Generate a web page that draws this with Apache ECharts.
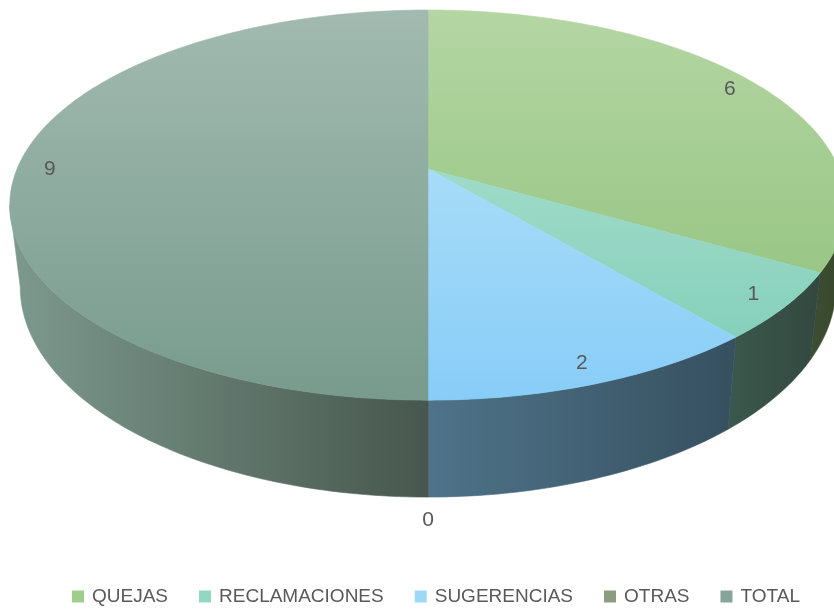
<!DOCTYPE html>
<html>
<head>
<meta charset="utf-8">
<script src="https://cdn.jsdelivr.net/npm/echarts@6/dist/echarts.min.js"></script>
<style>
html, body { margin: 0; padding: 0; background: #fff; }
#chart { width: 834px; height: 610px; }
</style>
</head>
<body>
<div id="chart"></div>
<script>
var categories = ['QUEJAS', 'RECLAMACIONES', 'SUGERENCIAS', 'OTRAS', 'TOTAL'];
var values = [6, 1, 2, 0, 9];

// colores: leyenda, cara superior (arriba/abajo) y lateral (izq/der)
var legendColors = ['#a0cc8c', '#90d8c2', '#9dd8f8', '#8b9c80', '#86a49a'];
var topColors = [['#b4d6a3', '#8cbf78'], ['#b8e4d6', '#7ccdb6'], ['#bce6f8', '#88cdf8'], ['#9aaa90', '#7d8f72'], ['#a2bab0', '#789b8e']];
var sideColors = [['#3e4e32', '#37462b'], ['#3b584d', '#334840'], ['#4f738a', '#36505f'], ['#6a7a60', '#4a5a40'], ['#7d998d', '#47574e']];

// proyeccion en perspectiva del disco
var CX = 428, CY = 169, K = 411, KS = 188.4, P = 0.185, DEPTH = 79, BOTTOM_SCALE = 0.975;
var SIL_R = Math.acos(-P) * 180 / Math.PI;
var SIL_L = 360 - SIL_R;
var total = values.reduce(function (a, b) { return a + b; }, 0);

var project = function (deg, r, drop) {
    var a = deg * Math.PI / 180;
    var u = r * Math.sin(a), v = r * Math.cos(a);
    var w = 1 + P * v;
    var sx = drop ? BOTTOM_SCALE : 1;
    return [CX + K * u * sx / w, CY - KS * v / w + (drop || 0) / w];
};

var labelText = function (x, y, txt) {
    return {
        type: 'text', x: x, y: y, z2: 20,
        style: {
            text: txt, fill: '#595959', fontSize: 21,
            fontFamily: '"Liberation Sans", Arial, sans-serif',
            align: 'center', verticalAlign: 'middle'
        }
    };
};

var renderSlice = function (idx) {
    return function (params, api) {
        var val = api.value(0);
        var before = 0;
        for (var j = 0; j < idx; j++) before += values[j];
        var start = before / total * 360;
        var end = (before + val) / total * 360;
        var mid = (start + end) / 2;
        var children = [];
        var a, p;

        if (val > 0) {
            // lateral visible
            var s0 = Math.max(start, SIL_R), s1 = Math.min(end, SIL_L);
            if (s1 > s0) {
                var side = [];
                for (a = s0; a < s1; a += 1) side.push(project(a, 1, 0));
                side.push(project(s1, 1, 0));
                for (a = s1; a > s0; a -= 1) side.push(project(a, 1, DEPTH));
                side.push(project(s0, 1, DEPTH));
                var xs = side.map(function (q) { return q[0]; });
                var minX = Math.min.apply(null, xs), maxX = Math.max.apply(null, xs);
                var sideFill = new echarts.graphic.LinearGradient(minX, 0, maxX, 0, [
                    { offset: 0, color: sideColors[idx][0] },
                    { offset: 1, color: sideColors[idx][1] }
                ], true);
                children.push({
                    type: 'polygon', z2: 1,
                    shape: { points: side },
                    style: { fill: sideFill, stroke: sideFill, lineWidth: 0.6 }
                });
            }
            // cara superior
            var top = [[CX, CY]];
            for (a = start; a < end; a += 1) top.push(project(a, 1, 0));
            top.push(project(end, 1, 0));
            var topFill = new echarts.graphic.LinearGradient(0, 10, 0, 400, [
                { offset: 0, color: topColors[idx][0] },
                { offset: 1, color: topColors[idx][1] }
            ], true);
            children.push({
                type: 'polygon', z2: 10,
                shape: { points: top },
                style: { fill: topFill, stroke: topFill, lineWidth: 0.6 }
            });
            p = project(mid, 0.92, 0);
            children.push(labelText(p[0], p[1], String(val)));
        } else {
            p = project(mid, 1, DEPTH);
            children.push(labelText(p[0], p[1] + 23, String(val)));
        }
        return { type: 'group', children: children };
    };
};

var chart = echarts.init(document.getElementById('chart'));
var series = [];
for (var i = 0; i < categories.length; i++) {
    series.push({
        name: categories[i],
        type: 'custom',
        coordinateSystem: 'none',
        silent: true,
        itemStyle: { color: legendColors[i] },
        data: [[values[i]]],
        renderItem: renderSlice(i)
    });
}

chart.setOption({
    animation: false,
    backgroundColor: '#ffffff',
    legend: {
        data: categories,
        icon: 'rect',
        itemWidth: 12,
        itemHeight: 12,
        itemGap: 31,
        padding: 0,
        left: 72,
        top: 587,
        selectedMode: false,
        textStyle: {
            color: '#595959',
            fontSize: 19,
            fontFamily: '"Liberation Sans", Arial, sans-serif',
            padding: [0, 0, 0, 3]
        }
    },
    series: series
});
</script>
</body>
</html>
